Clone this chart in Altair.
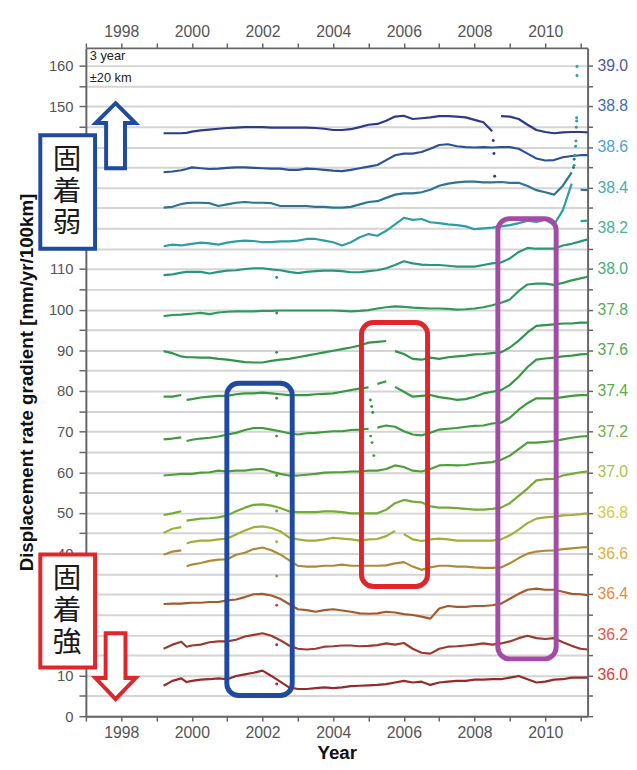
import altair as alt
import pandas as pd

# ---------------- data ----------------
YEARS = [1999.2, 1999.45, 1999.7, 1999.85, 2000.0, 2000.25, 2000.5, 2000.75,
         2001.0, 2001.25, 2001.5, 2001.75, 2002.0, 2002.25, 2002.5, 2002.75,
         2003.0, 2003.25, 2003.5, 2003.75, 2004.0, 2004.25, 2004.5, 2004.75,
         2005.0, 2005.25, 2005.5, 2005.75, 2006.0, 2006.25, 2006.5, 2006.75,
         2007.0, 2007.25, 2007.5, 2007.75, 2008.0, 2008.25, 2008.5, 2008.75,
         2009.0, 2009.25, 2009.5, 2009.75, 2010.0, 2010.25, 2010.5, 2010.75,
         2011.0, 2011.2]

RATE_A = [143.4, 143.4, 143.4, 143.5, 143.8, 144.1, 144.3, 144.5, 144.7, 144.8,
          144.9, 144.9, 144.9, 144.8, 144.8, 144.8, 144.8, 144.8, 144.7, 144.5,
          144.2, 144.2, 144.4, 144.9, 145.5, 145.7, 146.5, 147.5, 147.7, 146.9,
          147.1, 147.3, 147.6, 147.6, 147.5, 147.3, 146.7, 146.1, 143.9, 147.6,
          147.5, 146.9, 145.5, 144.2, 143.7, 143.4, 143.6, 143.7, 143.7, 143.6]
RATE_B = [133.8, 134.0, 134.3, 134.6, 135.0, 134.8, 134.6, 134.7, 134.9, 135.0,
          135.0, 134.9, 134.8, 134.7, 134.7, 134.4, 134.4, 134.7, 134.6, 134.4,
          134.2, 134.1, 134.4, 134.8, 135.2, 135.6, 136.8, 138.0, 138.4, 138.4,
          138.8, 139.6, 140.5, 140.7, 140.2, 140.0, 139.9, 140.0, 139.9, 140.0,
          140.0, 139.6, 138.4, 137.2, 136.7, 136.8, 137.5, 137.8, 138.0, 138.0]
RATE_C = [125.1, 125.3, 126.0, 126.2, 126.3, 126.3, 126.2, 125.5, 125.9, 126.3,
          126.5, 126.3, 126.3, 126.2, 125.5, 125.5, 125.5, 125.5, 125.3, 125.3,
          125.1, 125.1, 125.3, 125.9, 126.5, 126.7, 127.5, 128.3, 128.6, 128.6,
          128.9, 129.5, 130.5, 131.0, 131.3, 131.5, 131.5, 131.3, 131.3, 131.4,
          131.2, 131.2, 130.4, 129.4, 128.9, 128.3, 130.5, 133.8, 129.5, 129.4]
RATE_D = [115.6, 116.0, 115.8, 116.0, 116.2, 116.5, 116.3, 116.0, 116.5, 116.8,
          117.0, 116.9, 116.6, 116.6, 116.8, 116.8, 117.0, 117.4, 117.4, 117.0,
          116.6, 115.8, 116.6, 117.8, 118.6, 118.2, 119.4, 121.0, 122.6, 122.1,
          122.3, 121.5, 121.3, 121.0, 120.8, 120.5, 119.8, 120.0, 120.2, 120.5,
          120.8, 121.3, 121.9, 121.6, 122.1, 120.9, 124.5, 131.0, 121.8, 121.9]
RATE_E = [108.5, 108.7, 109.1, 109.3, 109.3, 109.3, 108.9, 109.3, 109.6, 109.7,
          110.0, 110.2, 110.2, 109.9, 109.7, 109.3, 109.0, 109.3, 109.5, 109.6,
          109.6, 109.5, 109.2, 109.2, 109.5, 109.7, 110.2, 111.0, 111.9, 111.4,
          111.1, 111.0, 111.0, 110.8, 110.6, 110.6, 110.6, 111.0, 111.4, 111.6,
          112.6, 114.2, 115.2, 115.0, 115.0, 115.0, 115.8, 116.2, 116.8, 117.3]
RATE_F = [98.4, 98.7, 98.8, 98.9, 99.0, 99.2, 98.9, 99.3, 99.5, 99.6,
          99.6, 99.6, 99.7, 99.7, 99.8, 99.8, 99.8, 99.8, 99.8, 99.8,
          99.8, 99.7, 99.6, 99.7, 99.9, 100.3, 100.6, 100.8, 100.7, 100.5,
          100.4, 100.3, 100.3, 100.2, 100.0, 100.1, 100.3, 100.6, 101.1, 101.7,
          102.5, 104.6, 106.2, 106.4, 106.4, 106.1, 106.6, 107.2, 107.7, 108.1]
RATE_G = [89.8, 89.3, 88.5, 88.3, 88.3, 88.2, 88.2, 87.9, 87.7, 87.4,
          87.1, 87.0, 87.0, 87.4, 87.7, 87.9, 88.3, 88.7, 89.1, 89.5,
          89.9, 90.3, 90.7, 91.2, 91.9, 92.1, 92.3, 89.8, 89.1, 87.9,
          87.7, 88.2, 87.9, 88.3, 88.5, 88.7, 89.0, 89.1, 89.3, 89.5,
          90.7, 92.4, 94.4, 96.0, 96.2, 96.4, 96.6, 96.6, 96.8, 96.8]
RATE_H = [78.6, 78.6, 79.0, 77.8, 78.0, 78.4, 78.6, 78.8, 78.8, 79.2,
          79.4, 79.4, 79.6, 79.4, 79.2, 79.0, 79.0, 79.0, 79.2, 79.3,
          79.4, 79.8, 80.2, 80.6, 80.9, 81.7, 82.4, 81.0, 79.8, 78.6,
          78.8, 79.0, 78.5, 78.2, 77.8, 78.0, 78.6, 79.4, 79.8, 80.2,
          81.5, 83.5, 85.9, 87.7, 88.0, 88.2, 88.5, 88.7, 89.0, 89.1]
RATE_I = [68.1, 68.3, 68.6, 67.7, 68.0, 68.3, 68.5, 68.8, 69.3, 69.7,
          70.4, 70.9, 70.9, 70.5, 70.1, 69.6, 69.3, 69.6, 69.7, 69.9,
          70.1, 70.1, 70.4, 70.5, 70.7, 71.0, 71.5, 71.2, 70.1, 69.3,
          69.1, 69.7, 70.5, 70.7, 70.9, 71.2, 71.4, 71.5, 72.0, 72.2,
          73.4, 75.4, 77.0, 78.2, 78.2, 78.2, 78.5, 78.8, 79.0, 79.0]
RATE_J = [59.2, 59.4, 59.6, 59.6, 59.6, 59.9, 60.0, 60.4, 60.2, 60.4,
          60.4, 60.7, 60.8, 60.2, 59.6, 59.2, 59.2, 59.4, 59.6, 59.9,
          60.0, 60.0, 60.2, 60.2, 60.4, 60.4, 60.8, 61.7, 61.3, 60.4,
          60.2, 60.8, 61.7, 61.8, 61.7, 61.8, 62.1, 62.3, 62.5, 63.1,
          64.1, 65.7, 67.3, 67.3, 67.5, 67.7, 68.1, 68.5, 68.8, 68.9]
RATE_K = [49.5, 49.9, 50.4, 48.1, 48.3, 48.6, 48.7, 48.9, 49.4, 50.4,
          51.3, 52.0, 52.1, 51.8, 51.2, 50.4, 50.2, 50.2, 50.2, 50.4,
          50.4, 50.2, 49.9, 49.9, 49.9, 49.9, 50.8, 52.4, 53.2, 52.8,
          52.6, 51.6, 51.3, 51.3, 51.2, 51.0, 50.8, 50.8, 51.0, 51.3,
          52.4, 54.2, 56.0, 58.0, 58.3, 58.4, 59.2, 59.6, 60.0, 60.2]
RATE_L = [45.1, 46.1, 46.5, 42.5, 42.9, 43.2, 43.2, 43.5, 43.7, 44.7,
          45.7, 46.5, 46.7, 46.3, 45.5, 44.0, 43.5, 43.2, 43.2, 43.5,
          43.9, 43.7, 43.5, 43.2, 43.5, 43.6, 44.3, 45.6, 44.8, 43.5,
          43.1, 43.5, 43.7, 43.5, 43.2, 43.2, 43.2, 43.2, 43.2, 43.5,
          44.5, 45.9, 47.5, 48.6, 48.9, 49.1, 49.4, 49.5, 49.7, 49.9]
RATE_M = [39.7, 40.5, 40.8, 36.9, 37.3, 37.7, 38.2, 38.5, 38.6, 39.7,
          40.2, 41.1, 41.5, 40.8, 39.8, 38.4, 37.0, 36.8, 36.8, 37.0,
          37.0, 37.3, 37.0, 37.0, 37.0, 37.0, 37.1, 37.6, 37.9, 36.8,
          36.0, 36.6, 37.0, 37.0, 36.8, 36.8, 36.6, 36.5, 36.5, 36.6,
          37.6, 38.9, 40.0, 40.5, 40.7, 40.8, 41.1, 41.3, 41.5, 41.6]
RATE_N = [27.6, 27.7, 27.7, 27.8, 27.9, 27.9, 28.1, 28.1, 28.5, 28.7,
          29.3, 30.0, 30.1, 29.7, 28.9, 27.6, 26.3, 26.1, 25.7, 26.1,
          26.3, 26.0, 25.7, 25.3, 25.2, 25.3, 25.7, 25.5, 25.1, 24.9,
          24.5, 24.0, 26.5, 27.1, 26.9, 26.9, 27.1, 27.1, 27.3, 27.7,
          28.9, 30.1, 31.1, 31.4, 31.1, 31.1, 30.6, 30.1, 30.0, 29.8]
RATE_O = [16.6, 17.6, 18.3, 17.1, 17.4, 17.6, 18.2, 18.4, 18.4, 18.8,
          19.6, 20.0, 20.4, 19.8, 18.7, 17.4, 16.6, 16.4, 16.6, 17.1,
          17.2, 17.4, 17.4, 17.2, 17.3, 17.5, 17.9, 17.6, 18.0, 16.6,
          15.6, 15.4, 16.6, 17.1, 17.2, 17.4, 17.6, 17.9, 17.6, 17.9,
          18.4, 19.2, 19.8, 19.2, 19.0, 19.2, 18.2, 17.3, 16.6, 16.4]
RATE_P = [7.5, 8.7, 9.3, 8.4, 8.7, 9.0, 9.1, 9.3, 9.1, 9.9,
          10.3, 10.7, 11.2, 9.9, 8.5, 7.1, 6.7, 6.7, 6.9, 7.1,
          6.9, 7.1, 7.4, 7.5, 7.6, 7.7, 7.9, 8.3, 8.7, 8.3,
          8.5, 7.7, 8.3, 8.5, 8.7, 8.7, 9.0, 9.0, 9.1, 9.1,
          9.5, 9.9, 9.1, 8.3, 8.5, 9.0, 9.1, 9.5, 9.5, 9.5]

SERIES_NAMES = ["A", "B", "C", "D", "E", "F", "G", "H",
                "I", "J", "K", "L", "M", "N", "O", "P"]
SERIES_VALUES = [RATE_A, RATE_B, RATE_C, RATE_D, RATE_E, RATE_F, RATE_G, RATE_H,
                 RATE_I, RATE_J, RATE_K, RATE_L, RATE_M, RATE_N, RATE_O, RATE_P]
SERIES_COLORS = ["#2b3a8a", "#2d5196", "#2b7595", "#2b9ea3", "#27977c", "#2f9a58",
                 "#2f9548", "#349a40", "#3c9b3a", "#4e9f38", "#74aa36", "#a3ae38",
                 "#b08a32", "#a65a2c", "#9e3a2c", "#962a2a"]
# years at which a series' line restarts after a gap
SERIES_BREAKS = {"A": [2008.75], "C": [2011.0], "D": [2011.0], "G": [2005.75],
                 "H": [1999.85, 2005.25, 2005.75], "I": [1999.85, 2005.25],
                 "K": [1999.85], "L": [1999.85, 2006.0], "M": [1999.85]}

# isolated points (outliers / steep jumps drawn as dots)
DOT_YEARS = [2002.4, 2002.4, 2002.4, 2002.4, 2002.4, 2002.4, 2002.4, 2002.4,
             2002.4, 2002.4, 2002.4, 2002.4,
             2008.53, 2008.55, 2008.57,
             2010.8, 2010.82,
             2010.82, 2010.84, 2010.86, 2010.87, 2010.88, 2010.89, 2010.89,
             2010.9, 2010.9,
             2005.05, 2005.09, 2005.12,
             2005.06, 2005.1, 2005.15]
DOT_VALUES = [107.9, 99.2, 89.5, 78.2, 68.9, 59.2, 50.5, 42.9, 34.5, 27.3, 17.6, 7.9,
              141.6, 138.4, 132.8,
              135.0, 137.0,
              135.5, 138.0, 140.2, 141.5, 144.9, 146.4, 147.2, 157.6, 159.8,
              77.8, 76.2, 74.7,
              68.9, 67.3, 64.1]
DOT_SERIES = ["E", "F", "G", "H", "I", "J", "K", "L", "M", "N", "O", "P",
              "A", "A", "A",
              "C", "C",
              "D", "D", "D", "D", "D", "D", "D", "D", "D",
              "H", "H", "H",
              "I", "I", "I"]

# right-hand latitude labels
RIGHT_LABELS = ["36.0", "36.2", "36.4", "36.6", "36.8", "37.0", "37.2", "37.4",
                "37.6", "37.8", "38.0", "38.2", "38.4", "38.6", "38.8", "39.0"]
RIGHT_POS = [10, 20, 30, 40, 50, 60, 70, 80, 90, 100, 110, 120, 130, 140, 150, 160]
RIGHT_COLORS = ["#e03a32", "#e8583a", "#e88a3e", "#deaf45", "#d2cc45", "#a8c44a",
                "#6cb248", "#5aab4a", "#55aa55", "#55ad65", "#4aae7d", "#45b59a",
                "#3fb0b5", "#4aa3d3", "#3f6db5", "#4b5aa5"]

# annotations
FRAME_X1 = [2000.99, 2004.80, 2008.66]
FRAME_X2 = [2002.84, 2006.67, 2010.31]
FRAME_Y1 = [5.1, 31.9, 14.1]
FRAME_Y2 = [81.9, 96.85, 122.4]
FRAME_COLORS = ["#1f4aa0", "#e0262a", "#a24ca6"]

LABEL_X1 = [1995.71, 1995.71]
LABEL_X2 = [1997.26, 1997.26]
LABEL_Y1 = [115.0, 12.0]
LABEL_Y2 = [142.9, 39.8]
LABEL_COLORS = ["#1f4aa0", "#e0262a"]
# vertical labels, one character per line; anchored at the first character
LABEL_TEXT = ["固\n着\n弱", "固\n着\n強"]
LABEL_TEXT_X = [1996.47, 1996.47]
LABEL_TEXT_Y = [136.7, 33.6]

ARROW_X = [1997.84, 1997.84]
ARROW_Y = [142.8, 12.3]

NOTE_X = [1997.11, 1997.11]
NOTE_Y = [162.3, 157.1]
NOTE_TEXT = ["3 year", "±20 km"]

# left-axis labels hidden behind the two boxes
HIDDEN_LEFT = [20, 30, 120, 130, 140]

# ---------------- build tables ----------------
color_of = dict(zip(SERIES_NAMES, SERIES_COLORS))
rows = []
for name, vals in zip(SERIES_NAMES, SERIES_VALUES):
    seg = 0
    breaks = SERIES_BREAKS.get(name, [])
    for yr, v in zip(YEARS, vals):
        if yr in breaks:
            seg += 1
        rows.append({"year": yr, "value": v, "seg": f"{name}{seg}",
                     "color": color_of[name]})
df_lines = pd.DataFrame(rows)

df_dots = pd.DataFrame({"year": DOT_YEARS, "value": DOT_VALUES,
                        "color": [color_of[s] for s in DOT_SERIES]})
df_right = pd.DataFrame({"pos": RIGHT_POS, "label": RIGHT_LABELS, "color": RIGHT_COLORS})
df_frames = pd.DataFrame({"x": FRAME_X1, "x2": FRAME_X2, "y": FRAME_Y1,
                          "y2": FRAME_Y2, "color": FRAME_COLORS})
df_labels = pd.DataFrame({"x": LABEL_X1, "x2": LABEL_X2, "y": LABEL_Y1,
                          "y2": LABEL_Y2, "color": LABEL_COLORS})
df_chars = pd.DataFrame({"x": LABEL_TEXT_X, "y": LABEL_TEXT_Y, "text": LABEL_TEXT})
df_up = pd.DataFrame({"x": ARROW_X[:1], "y": ARROW_Y[:1]})
df_down = pd.DataFrame({"x": ARROW_X[1:], "y": ARROW_Y[1:]})
df_note = pd.DataFrame({"x": NOTE_X, "y": NOTE_Y, "text": NOTE_TEXT})

# ---------------- scales & axes ----------------
XS = alt.Scale(domain=[1997, 2011.2], nice=False, zero=False)
YS = alt.Scale(domain=[0, 164.4], nice=False, zero=False)
AXC = "#666666"
LBL = "#555555"
YEAR_TICKS = list(range(1997, 2012))
Y_TICKS = list(range(0, 165, 5))
hidden_expr = " && ".join(f"datum.value != {v}" for v in HIDDEN_LEFT)

AX_BOTTOM = alt.Axis(values=YEAR_TICKS, format="d",
                     labelExpr="datum.value % 2 == 0 ? datum.label : ''",
                     tickSize=5, tickColor=AXC, tickWidth=1.5, labelPadding=4,
                     labelFontSize=16, labelColor=LBL, grid=False,
                     domainColor=AXC, domainWidth=2,
                     title="Year", titleFontSize=19, titleFontWeight="bold",
                     titleColor="#111111", titleY=28, titleBaseline="top")
AX_TOP = alt.Axis(orient="top", values=YEAR_TICKS, format="d",
                  labelExpr="datum.value % 2 == 0 ? datum.label : ''",
                  tickSize=5, tickColor=AXC, tickWidth=1.5, labelPadding=4,
                  labelFontSize=16, labelColor=LBL, grid=False,
                  domainColor=AXC, domainWidth=2, title=None)
AX_LEFT = alt.Axis(values=Y_TICKS,
                   labelExpr=f"(datum.value % 10 == 0 && {hidden_expr}) ? datum.label : ''",
                   tickSize=7, tickColor=AXC, tickWidth=1.5, labelPadding=6,
                   labelFontSize=15, labelColor=LBL,
                   grid=True, gridColor="#d4d4d4", gridWidth=2,
                   domainColor=AXC, domainWidth=2,
                   title="Displacement rate gradient [mm/yr/100km]",
                   titleFontSize=19, titleFontWeight="bold", titleColor="#111111",
                   titleAngle=270, titleX=-54, titleY=339,
                   titleAlign="center", titleBaseline="alphabetic")
AX_RIGHT = alt.Axis(orient="right", values=Y_TICKS, labels=False,
                    tickSize=5, tickColor=AXC, tickWidth=1.5, grid=False,
                    domainColor=AXC, domainWidth=2, title=None)

W, H = 509, 678

lines = alt.Chart(df_lines).mark_line(strokeWidth=2.2, strokeJoin="round").encode(
    x=alt.X("year:Q", scale=XS, axis=AX_BOTTOM),
    y=alt.Y("value:Q", scale=YS, axis=AX_LEFT),
    color=alt.Color("color:N", scale=None),
    detail="seg:N",
    order="year:Q",
)

dots = alt.Chart(df_dots).mark_circle(size=9, opacity=1).encode(
    x=alt.X("year:Q", scale=XS, axis=None),
    y=alt.Y("value:Q", scale=YS, axis=None),
    color=alt.Color("color:N", scale=None),
)

frames = alt.Chart(df_frames).mark_rect(fillOpacity=0, strokeWidth=5,
                                        cornerRadius=12).encode(
    x=alt.X("x:Q", scale=XS, axis=None), x2="x2:Q",
    y=alt.Y("y:Q", scale=YS, axis=None), y2="y2:Q",
    stroke=alt.Stroke("color:N", scale=None),
)

label_boxes = alt.Chart(df_labels).mark_rect(fill="white", strokeWidth=4).encode(
    x=alt.X("x:Q", scale=XS, axis=None), x2="x2:Q",
    y=alt.Y("y:Q", scale=YS, axis=None), y2="y2:Q",
    stroke=alt.Stroke("color:N", scale=None),
)

label_text = alt.Chart(df_chars).mark_text(
    font="Noto Sans CJK JP", fontSize=29, lineBreak="\n", lineHeight=32,
    color="#1a1a1a", align="center", baseline="middle").encode(
    x=alt.X("x:Q", scale=XS, axis=None),
    y=alt.Y("y:Q", scale=YS, axis=None),
    text="text:N",
)

UP_PATH = "M 0 -1 L 0.61 -0.39 L 0.29 -0.39 L 0.29 1 L -0.29 1 L -0.29 -0.39 L -0.61 -0.39 Z"
DOWN_PATH = "M -0.3 -1 L 0.3 -1 L 0.3 0.36 L 0.61 0.36 L 0 1 L -0.61 0.36 L -0.3 0.36 Z"

arrow_up = alt.Chart(df_up).mark_point(
    shape=UP_PATH, size=4356, filled=True, fill="white", stroke="#1f4aa0",
    strokeWidth=4, opacity=1, fillOpacity=1, strokeOpacity=1).encode(
    x=alt.X("x:Q", scale=XS, axis=None),
    y=alt.Y("y:Q", scale=YS, axis=None),
)
arrow_down = alt.Chart(df_down).mark_point(
    shape=DOWN_PATH, size=4489, filled=True, fill="white", stroke="#e0262a",
    strokeWidth=4, opacity=1, fillOpacity=1, strokeOpacity=1).encode(
    x=alt.X("x:Q", scale=XS, axis=None),
    y=alt.Y("y:Q", scale=YS, axis=None),
)

note = alt.Chart(df_note).mark_text(fontSize=13, align="left", baseline="middle",
                                    color="#222222").encode(
    x=alt.X("x:Q", scale=XS, axis=AX_TOP),
    y=alt.Y("y:Q", scale=YS, axis=AX_RIGHT),
    text="text:N",
)

right_labels = alt.Chart(df_right).mark_text(fontSize=16, align="left",
                                             baseline="middle").encode(
    x=alt.value(W + 10),
    y=alt.Y("pos:Q", scale=YS, axis=None),
    text="label:N",
    color=alt.Color("color:N", scale=None),
)

chart = alt.layer(
    lines, dots, frames, label_boxes, label_text, arrow_up, arrow_down,
    note, right_labels,
).resolve_axis(
    x="independent", y="independent"
).properties(
    width=W, height=H,
    padding={"left": 79, "top": 35, "right": 42, "bottom": 41},
    autosize=alt.AutoSizeParams(type="none"),
).configure(
    font="Liberation Sans"
).configure_view(
    strokeOpacity=0
)

chart.save("out.html", embed_options={"renderer": "svg", "actions": False})
